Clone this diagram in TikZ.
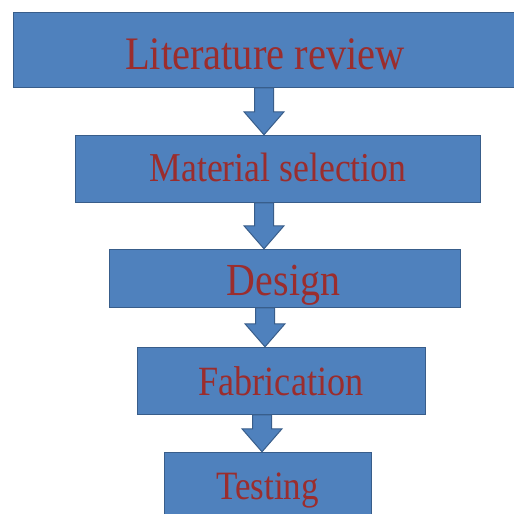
\documentclass[tikz,border=0pt]{standalone}
\usepackage{fontspec}
\usepackage{graphicx}
\setmainfont{Liberation Serif}
\usetikzlibrary{calc}
\definecolor{boxfill}{RGB}{79,129,189}
\definecolor{boxline}{RGB}{56,93,138}
\definecolor{txtred}{RGB}{155,45,45}
\tikzset{
  stepbox/.style={draw=boxline, fill=boxfill, line width=1.2pt, inner sep=0pt},
  lbl/.style={text=txtred, inner sep=0pt, anchor=base},
  blockarr/.style={draw=boxline, fill=boxfill, line width=1pt, line join=miter}
}
% #1 from node, #2 to node, #3 x centre (pt)
\newcommand{\blockarrow}[3]{%
  \draw[blockarr] let \p1=(#1.south), \p2=(#2.north) in
    ({#3pt-9.5pt},\y1) -- ({#3pt-9.5pt},{\y2+23pt}) -- ({#3pt-20pt},{\y2+23pt}) --
    ({#3pt},\y2) -- ({#3pt+20pt},{\y2+23pt}) -- ({#3pt+9.5pt},{\y2+23pt}) --
    ({#3pt+9.5pt},\y1) -- cycle;}
\begin{document}
\begin{tikzpicture}[x=1pt,y=1pt]
\useasboundingbox (0,0) rectangle (514,514);
\clip (0,0) rectangle (514,514);
\fill[white] (0,0) rectangle (514,514);
% boxes
\node[stepbox, anchor=south west, minimum width=503pt, minimum height=75pt] (b1) at (13,426) {};
\node[stepbox, anchor=south west, minimum width=405pt, minimum height=67pt] (b2) at (75,311) {};
\node[stepbox, anchor=south west, minimum width=351pt, minimum height=58pt] (b3) at (109,206) {};
\node[stepbox, anchor=south west, minimum width=288pt, minimum height=67pt] (b4) at (137,99) {};
\node[stepbox, anchor=south west, minimum width=207pt, minimum height=70pt] (b5) at (164,-9) {};
% labels
\node[lbl, font=\fontsize{40.5}{44}\selectfont] (t1) at (265,444) {\scalebox{1}[1.15]{Literature review}};
\node[lbl, font=\fontsize{35.7}{40}\selectfont] (t2) at (278,332) {\scalebox{1}[1.15]{Material selection}};
\node[lbl, font=\fontsize{39.9}{44}\selectfont] (t3) at (283.5,218) {\scalebox{1}[1.15]{Design}};
\node[lbl, font=\fontsize{36.2}{40}\selectfont] (t4) at (281,118) {\scalebox{1}[1.15]{Fabrication}};
\node[lbl, font=\fontsize{35}{40}\selectfont] (t5) at (267.5,14) {\scalebox{1}[1.15]{Testing}};
% arrows
\blockarrow{b1}{b2}{264}
\blockarrow{b2}{b3}{264}
\blockarrow{b3}{b4}{265}
\blockarrow{b4}{b5}{262}
\end{tikzpicture}
\end{document}
